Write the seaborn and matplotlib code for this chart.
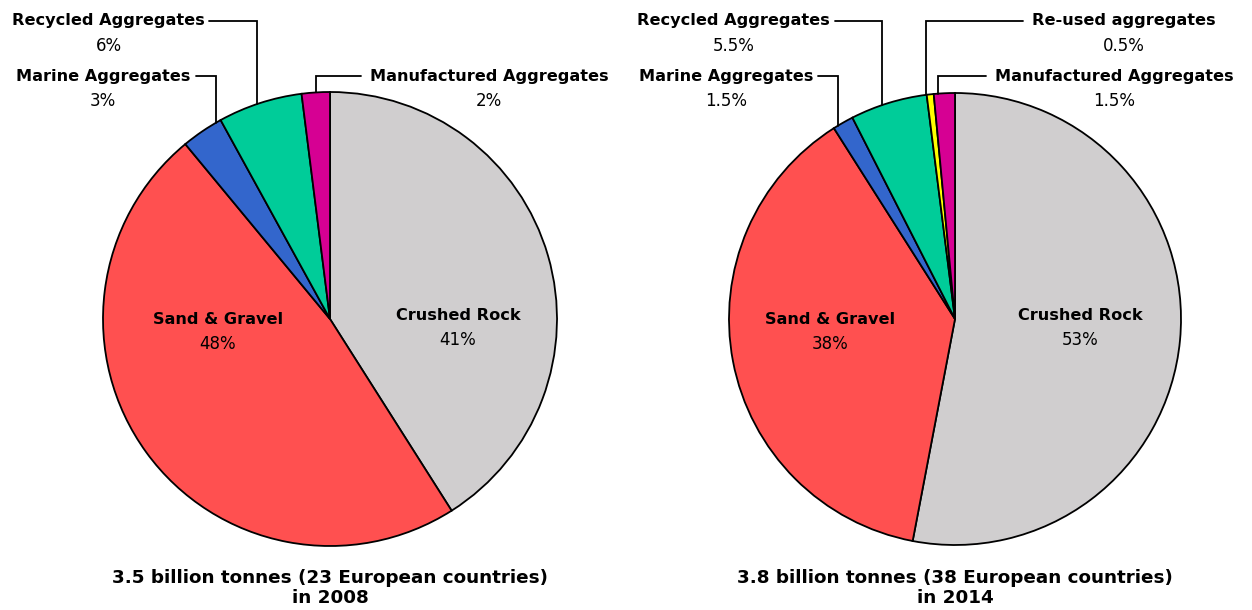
import matplotlib
matplotlib.use("Agg")
import matplotlib.pyplot as plt
import seaborn as sns
import numpy as np

sns.set_theme(style="white")
plt.rcParams["font.family"] = ["DejaVu Sans"]

# Aggregate production by source (percent of total)
labels_2008 = ["Crushed Rock", "Sand & Gravel", "Marine Aggregates",
               "Recycled Aggregates", "Manufactured Aggregates"]
values_2008 = [41, 48, 3, 6, 2]
pct_2008 = ["41%", "48%", "3%", "6%", "2%"]

labels_2014 = ["Crushed Rock", "Sand & Gravel", "Marine Aggregates",
               "Recycled Aggregates", "Re-used aggregates", "Manufactured Aggregates"]
values_2014 = [53, 38, 1.5, 5.5, 0.5, 1.5]
pct_2014 = ["53%", "38%", "1.5%", "5.5%", "0.5%", "1.5%"]

titles = ["3.5 billion tonnes (23 European countries)\nin 2008",
          "3.8 billion tonnes (38 European countries)\nin 2014"]

colour_of = {
    "Crushed Rock": "#D0CECF",
    "Sand & Gravel": "#FF5050",
    "Marine Aggregates": "#3366CC",
    "Recycled Aggregates": "#00CC99",
    "Re-used aggregates": "#FFFF00",
    "Manufactured Aggregates": "#D60093",
}

W, H = 1252, 610
fig = plt.figure(figsize=(W / 100, H / 100), dpi=100)
ax = fig.add_axes([0, 0, 1, 1])


def Y(py):
    return H - py


FS = 11.6
FS_PCT = 12
FS_TITLE = 13.2
LW = 1.3


def draw_pie(cx, cy, r, labels, values, pct, inner, callouts, title):
    ax.pie(values, colors=[colour_of[l] for l in labels], startangle=90,
           counterclock=False, center=(cx, Y(cy)), radius=r,
           wedgeprops=dict(edgecolor="black", linewidth=LW))
    for name, (tx, ty) in inner.items():
        i = labels.index(name)
        ax.text(tx, Y(ty), name, ha="center", va="center",
                fontsize=FS, fontweight="bold", color="black")
        ax.text(tx, Y(ty + 24), pct[i], ha="center", va="center",
                fontsize=FS_PCT, color="black")
    for name, (side, tx, ty, lx0, lx1) in callouts.items():
        i = labels.index(name)
        ha = "right" if side == "left" else "left"
        t = ax.text(tx, Y(ty), name, ha=ha, va="center",
                    fontsize=FS, fontweight="bold", color="black")
        # percentage centred under the label
        ax.annotate(pct[i], xy=(0.5, 0), xycoords=t, xytext=(0, -6),
                    textcoords="offset points", ha="center", va="top",
                    fontsize=FS_PCT, color="black")
        # leader: horizontal from the label, then down to the rim
        y_rim = cy - np.sqrt(r ** 2 - (lx1 - cx) ** 2)
        ax.plot([lx0, lx1, lx1], [Y(ty), Y(ty), Y(y_rim)],
                color="black", lw=LW, solid_joinstyle="miter")
    ax.text(cx, Y(588), title, ha="center", va="center",
            fontsize=FS_TITLE, fontweight="bold", color="black", linespacing=1.15)


draw_pie(330, 319, 227, labels_2008, values_2008, pct_2008,
         {"Crushed Rock": (458, 316), "Sand & Gravel": (218, 320)},
         {"Recycled Aggregates": ("left", 205, 21, 209, 257),
          "Marine Aggregates": ("left", 190, 76, 196, 216),
          "Manufactured Aggregates": ("right", 370, 76, 361, 316)},
         titles[0])

draw_pie(955, 319, 226, labels_2014, values_2014, pct_2014,
         {"Crushed Rock": (1080, 316), "Sand & Gravel": (830, 320)},
         {"Recycled Aggregates": ("left", 830, 21, 835, 882),
          "Marine Aggregates": ("left", 813, 76, 818, 838),
          "Re-used aggregates": ("right", 1032, 21, 1023, 926),
          "Manufactured Aggregates": ("right", 995, 76, 986, 938)},
         titles[1])

# pie() resets the limits, so fix the pixel-sized canvas afterwards
ax.set_xlim(0, W)
ax.set_ylim(0, H)
ax.set_aspect("equal")
ax.axis("off")

fig.savefig("out.png", dpi=100, facecolor="white")
